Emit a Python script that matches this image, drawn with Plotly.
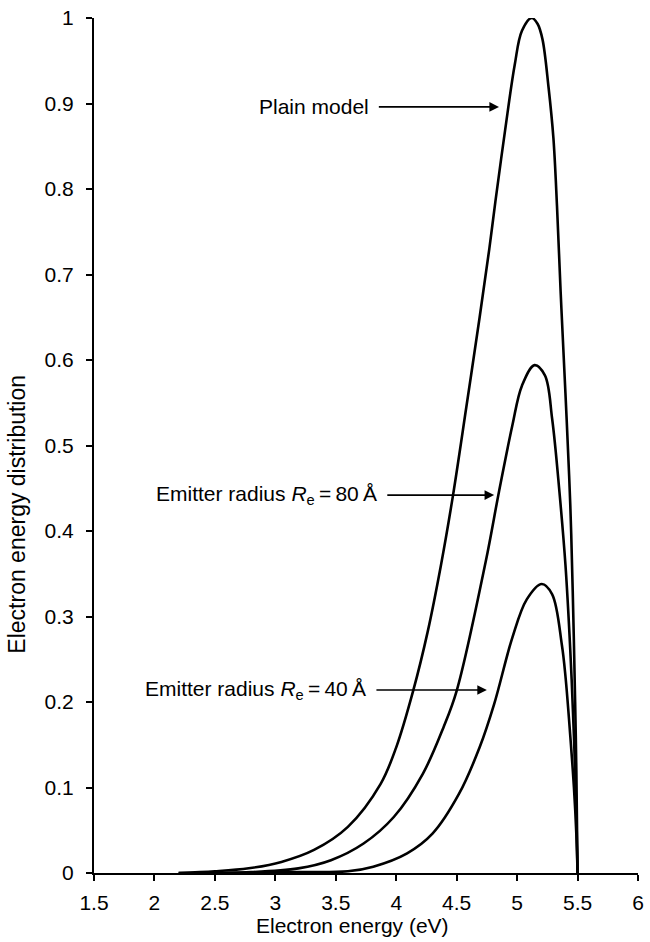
import plotly.graph_objects as go

# ---- data ----
energy_plain = [2.2, 2.5, 2.78, 3.05, 3.32, 3.6, 3.87, 4.0, 4.14, 4.26, 4.37, 4.47, 4.58,
                4.69, 4.77, 4.82, 4.90, 4.98, 5.04, 5.12, 5.17, 5.21, 5.26, 5.30,
                5.33, 5.36, 5.39, 5.41, 5.44, 5.46, 5.48, 5.49, 5.5]
dist_plain = [0.0, 0.002, 0.0055, 0.013, 0.027, 0.054, 0.104, 0.147, 0.213, 0.282, 0.36, 0.442, 0.545,
              0.65, 0.73, 0.785, 0.868, 0.945, 0.985, 1.0, 0.993, 0.975, 0.919, 0.86,
              0.78, 0.68, 0.59, 0.53, 0.43, 0.33, 0.2, 0.12, 0.0]

energy_r80 = [2.2, 2.8, 3.19, 3.46, 3.73, 3.98, 4.22, 4.39, 4.5, 4.74, 4.85, 4.96,
              5.04, 5.144, 5.23, 5.29, 5.35, 5.40, 5.44, 5.47, 5.49, 5.5]
dist_r80 = [0.0, 0.001, 0.0054, 0.015, 0.0345, 0.0655, 0.116, 0.17, 0.213, 0.364, 0.446, 0.523,
            0.57, 0.594, 0.582, 0.531, 0.446, 0.36, 0.26, 0.16, 0.07, 0.0]

energy_r40 = [2.5, 3.2, 3.6, 3.81, 4.09, 4.3, 4.52, 4.69, 4.81, 4.96, 5.08, 5.204,
              5.29, 5.37, 5.40, 5.44, 5.47, 5.49, 5.5]
dist_r40 = [0.0, 0.001, 0.002, 0.0074, 0.023, 0.046, 0.0927, 0.147, 0.1975, 0.275, 0.32, 0.338,
            0.326, 0.267, 0.23, 0.16, 0.10, 0.045, 0.0]

x_ticks = [1.5, 2, 2.5, 3, 3.5, 4, 4.5, 5, 5.5, 6]
x_tick_labels = ["1.5", "2", "2.5", "3", "3.5", "4", "4.5", "5", "5.5", "6"]
y_ticks = [0, 0.1, 0.2, 0.3, 0.4, 0.5, 0.6, 0.7, 0.8, 0.9, 1]
y_tick_labels = ["0", "0.1", "0.2", "0.3", "0.4", "0.5", "0.6", "0.7", "0.8", "0.9", "1"]

FONT = "Liberation Sans, Arial, sans-serif"
FS = 21
line_style = dict(color="black", width=2.6, shape="spline", smoothing=1.0)

fig = go.Figure()
for xs, ys, name in [(energy_plain, dist_plain, "Plain model"),
                     (energy_r80, dist_r80, "Re = 80 Å"),
                     (energy_r40, dist_r40, "Re = 40 Å")]:
    fig.add_trace(go.Scatter(x=xs, y=ys, mode="lines", line=line_style,
                             name=name, showlegend=False, hoverinfo="skip"))

axis_common = dict(showgrid=False, zeroline=False, showline=True, linecolor="black",
                   linewidth=2, ticks="outside", ticklen=6, tickwidth=2, tickcolor="black",
                   tickfont=dict(family=FONT, size=FS, color="black"), mirror=False)

fig.update_layout(
    width=650, height=942,
    margin=dict(l=94, r=6, t=14, b=69),
    plot_bgcolor="white", paper_bgcolor="white",
    xaxis=dict(range=[1.5, 6], tickvals=x_ticks, ticktext=x_tick_labels,
               ticklabelstandoff=4, **axis_common),
    yaxis=dict(range=[0, 1], tickvals=y_ticks, ticktext=y_tick_labels,
               ticklabelstandoff=8, **axis_common),
    font=dict(family=FONT, size=FS, color="black"),
)

def label_with_arrow(text, x_text_end, x_tip, y):
    fig.add_annotation(x=x_tip, y=y, ax=x_text_end, ay=y, xref="x", yref="y",
                       axref="x", ayref="y", text=text, xanchor="right", yanchor="middle",
                       showarrow=True, startstandoff=8,
                       arrowhead=2, arrowsize=1.2, arrowwidth=1.6, arrowcolor="black",
                       font=dict(family=FONT, size=FS, color="black"))

label_with_arrow("Plain model", 3.79, 4.85, 0.896)
label_with_arrow("Emitter radius <i>R</i><sub>e</sub>\u2009=\u200980\u2009Å", 3.86, 4.81, 0.442)
label_with_arrow("Emitter radius <i>R</i><sub>e</sub>\u2009=\u200940\u2009Å", 3.77, 4.75, 0.214)

fig.add_annotation(x=0.475, y=-0.061, xref="paper", yref="paper",
                   text="Electron energy (eV)", showarrow=False,
                   xanchor="center", yanchor="middle",
                   font=dict(family=FONT, size=FS, color="black"))
fig.add_annotation(x=-0.142, y=0.42, xref="paper", yref="paper",
                   text="Electron energy distribution", showarrow=False, textangle=-90,
                   xanchor="center", yanchor="middle",
                   font=dict(family=FONT, size=23, color="black"))

fig.write_html("out.html")
